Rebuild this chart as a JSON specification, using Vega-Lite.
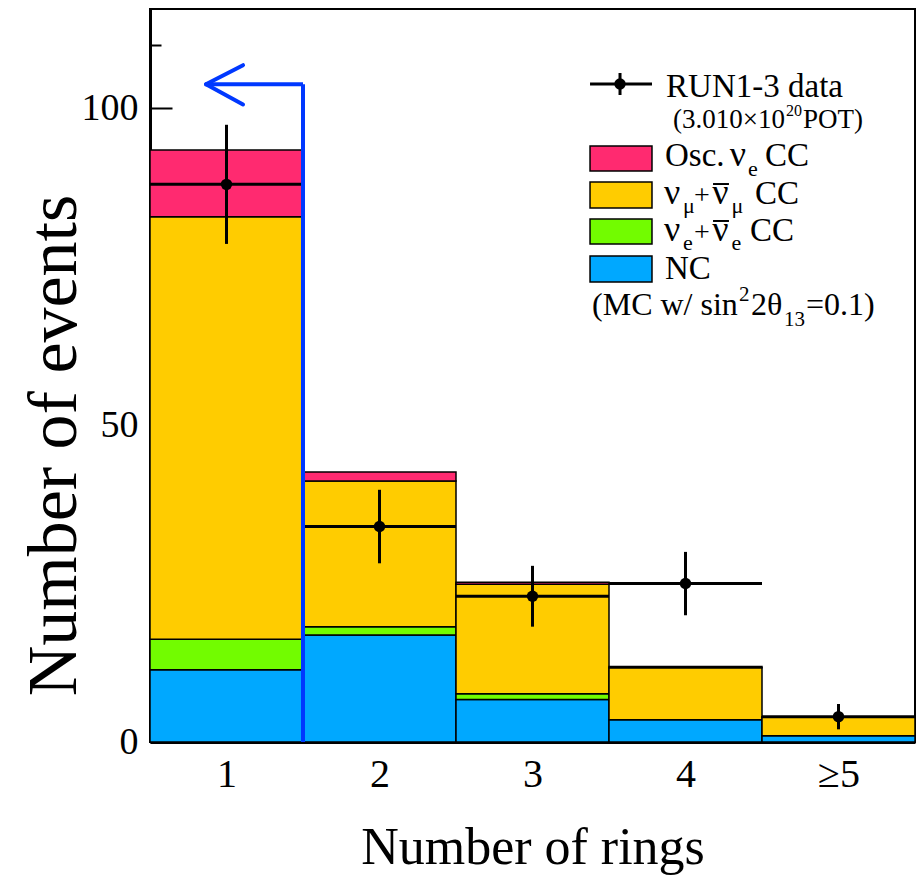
{
  "$schema": "https://vega.github.io/schema/vega-lite/v6.json",
  "autosize": {"type": "none"},
  "width": 765,
  "height": 733,
  "padding": {"left": 150, "top": 9, "right": 1, "bottom": 135},
  "background": "white",
  "config": {
    "view": {"stroke": "black", "strokeWidth": 2},
    "text": {"font": "Liberation Serif", "align": "left", "baseline": "alphabetic", "color": "black"},
    "axis": {"domainColor": "black", "domainWidth": 3, "grid": false, "labelFont": "Liberation Serif", "titleFont": "Liberation Serif", "labelColor": "black", "titleColor": "black", "titleFontWeight": "normal", "tickColor": "black", "zindex": 1}
  },
  "datasets": {
    "mc": [
      {"rings": 1, "r0": 0.5, "r1": 1.5, "comp": "NC", "y0": 0, "y1": 11.4},
      {"rings": 1, "r0": 0.5, "r1": 1.5, "comp": "nue", "y0": 11.4, "y1": 16.2},
      {"rings": 1, "r0": 0.5, "r1": 1.5, "comp": "numu", "y0": 16.2, "y1": 82.9},
      {"rings": 1, "r0": 0.5, "r1": 1.5, "comp": "osc", "y0": 82.9, "y1": 93.4},
      {"rings": 2, "r0": 1.5, "r1": 2.5, "comp": "NC", "y0": 0, "y1": 16.9},
      {"rings": 2, "r0": 1.5, "r1": 2.5, "comp": "nue", "y0": 16.9, "y1": 18.2},
      {"rings": 2, "r0": 1.5, "r1": 2.5, "comp": "numu", "y0": 18.2, "y1": 41.2},
      {"rings": 2, "r0": 1.5, "r1": 2.5, "comp": "osc", "y0": 41.2, "y1": 42.6},
      {"rings": 3, "r0": 2.5, "r1": 3.5, "comp": "NC", "y0": 0, "y1": 6.7},
      {"rings": 3, "r0": 2.5, "r1": 3.5, "comp": "nue", "y0": 6.7, "y1": 7.6},
      {"rings": 3, "r0": 2.5, "r1": 3.5, "comp": "numu", "y0": 7.6, "y1": 24.9},
      {"rings": 3, "r0": 2.5, "r1": 3.5, "comp": "osc", "y0": 24.9, "y1": 25.2},
      {"rings": 4, "r0": 3.5, "r1": 4.5, "comp": "NC", "y0": 0, "y1": 3.5},
      {"rings": 4, "r0": 3.5, "r1": 4.5, "comp": "numu", "y0": 3.5, "y1": 11.7},
      {"rings": 4, "r0": 3.5, "r1": 4.5, "comp": "osc", "y0": 11.7, "y1": 11.9},
      {"rings": 5, "r0": 4.5, "r1": 5.5, "comp": "NC", "y0": 0, "y1": 1.0},
      {"rings": 5, "r0": 4.5, "r1": 5.5, "comp": "numu", "y0": 1.0, "y1": 3.9},
      {"rings": 5, "r0": 4.5, "r1": 5.5, "comp": "osc", "y0": 3.9, "y1": 4.0}
    ],
    "obs": [
      {"rings": 1, "r0": 0.5, "r1": 1.5, "n": 88, "lo": 78.6, "hi": 97.4},
      {"rings": 2, "r0": 1.5, "r1": 2.5, "n": 34, "lo": 28.2, "hi": 39.8},
      {"rings": 3, "r0": 2.5, "r1": 3.5, "n": 23, "lo": 18.2, "hi": 27.8},
      {"rings": 4, "r0": 3.5, "r1": 4.5, "n": 25, "lo": 20.0, "hi": 30.0},
      {"rings": 5, "r0": 4.5, "r1": 5.5, "n": 4, "lo": 2.0, "hi": 6.0}
    ],
    "one": [{}]
  },
  "layer": [
    {
      "data": {"name": "mc"},
      "mark": {"type": "rect", "stroke": "black", "strokeWidth": 1.5},
      "encoding": {
        "x": {"field": "r0", "type": "quantitative", "scale": {"domain": [0.5, 5.5], "nice": false, "zero": false},
          "axis": {"values": [1, 2, 3, 4, 5], "format": "d", "labelExpr": "datum.value == 5 ? '≥5' : datum.label", "ticks": false, "labelFontSize": 40, "labelPadding": 12,
            "title": "Number of rings", "titleFontSize": 52, "titleY": 121, "titleBaseline": "alphabetic"}},
        "x2": {"field": "r1"},
        "y": {"field": "y0", "type": "quantitative", "scale": {"domain": [0, 115.67], "nice": false},
          "axis": {"values": [0, 10, 20, 30, 40, 50, 60, 70, 80, 90, 100, 110], "format": "d", "labelExpr": "datum.value % 50 == 0 ? datum.label : ''",
            "tickSize": {"condition": {"test": "datum.value % 50 == 0", "value": -22}, "value": -11}, "tickWidth": 2,
            "labelFontSize": 38, "labelPadding": 34, "labelBaseline": "middle",
            "title": "Number of events", "titleFontSize": 70, "titleAngle": -90, "titleX": -75, "titleY": 436, "titleBaseline": "alphabetic", "titleAlign": "center"}},
        "y2": {"field": "y1"},
        "fill": {"field": "comp", "type": "nominal", "legend": null,
          "scale": {"domain": ["osc", "numu", "nue", "NC"], "range": ["#ff2a70", "#ffcc00", "#72fc00", "#00a8ff"]}}
      }
    },
    {
      "data": {"name": "obs"},
      "mark": {"type": "rule", "color": "black", "strokeWidth": 3},
      "encoding": {"x": {"field": "r0", "type": "quantitative"}, "x2": {"field": "r1"}, "y": {"field": "n", "type": "quantitative"}}
    },
    {
      "data": {"name": "obs"},
      "mark": {"type": "rule", "color": "black", "strokeWidth": 3},
      "encoding": {"x": {"field": "rings", "type": "quantitative"}, "y": {"field": "lo", "type": "quantitative"}, "y2": {"field": "hi"}}
    },
    {
      "data": {"name": "obs"},
      "mark": {"type": "point", "shape": "circle", "filled": true, "color": "black", "size": 130, "opacity": 1},
      "encoding": {"x": {"field": "rings", "type": "quantitative"}, "y": {"field": "n", "type": "quantitative"}}
    },
    {
      "data": {"name": "one"},
      "mark": {"type": "rule", "color": "#0038ff", "strokeWidth": 4},
      "encoding": {"x": {"datum": 1.5}, "y": {"datum": 0}, "y2": {"datum": 103.8}}
    },
    {
      "data": {"name": "one"},
      "mark": {"type": "rule", "color": "#0038ff", "strokeWidth": 4},
      "encoding": {"x": {"datum": 1.5}, "x2": {"datum": 0.866}, "y": {"datum": 103.8}}
    },
    {
      "data": {"name": "one"},
      "mark": {"type": "rule", "color": "#0038ff", "strokeWidth": 4, "strokeCap": "round"},
      "encoding": {"x": {"datum": 0.866}, "y": {"datum": 103.8}, "x2": {"datum": 1.108}, "y2": {"datum": 106.8}}
    },
    {
      "data": {"name": "one"},
      "mark": {"type": "rule", "color": "#0038ff", "strokeWidth": 4, "strokeCap": "round"},
      "encoding": {"x": {"datum": 0.866}, "y": {"datum": 103.8}, "x2": {"datum": 1.108}, "y2": {"datum": 100.6}}
    },
    {
      "data": {"name": "one"},
      "mark": {"type": "rule", "color": "black", "strokeWidth": 3},
      "encoding": {"x": {"datum": 3.376}, "x2": {"datum": 3.781}, "y": {"datum": 103.83}}
    },
    {
      "data": {"name": "one"},
      "mark": {"type": "rule", "color": "black", "strokeWidth": 3},
      "encoding": {"x": {"datum": 3.572}, "y": {"datum": 105.57}, "y2": {"datum": 102.1}}
    },
    {
      "data": {"name": "one"},
      "mark": {"type": "point", "shape": "circle", "filled": true, "color": "black", "size": 130, "opacity": 1},
      "encoding": {"x": {"datum": 3.572}, "y": {"datum": 103.83}}
    },
    {
      "data": {"name": "one"},
      "mark": {"type": "rect", "fill": "#ff2a70", "stroke": "black", "strokeWidth": 1.5},
      "encoding": {"x": {"datum": 3.376}, "x2": {"datum": 3.781}, "y": {"datum": 94.05}, "y2": {"datum": 90.11}}
    },
    {
      "data": {"name": "one"},
      "mark": {"type": "rect", "fill": "#ffcc00", "stroke": "black", "strokeWidth": 1.5},
      "encoding": {"x": {"datum": 3.376}, "x2": {"datum": 3.781}, "y": {"datum": 88.37}, "y2": {"datum": 84.27}}
    },
    {
      "data": {"name": "one"},
      "mark": {"type": "rect", "fill": "#72fc00", "stroke": "black", "strokeWidth": 1.5},
      "encoding": {"x": {"datum": 3.376}, "x2": {"datum": 3.781}, "y": {"datum": 82.53}, "y2": {"datum": 78.59}}
    },
    {
      "data": {"name": "one"},
      "mark": {"type": "rect", "fill": "#00a8ff", "stroke": "black", "strokeWidth": 1.5},
      "encoding": {"x": {"datum": 3.376}, "x2": {"datum": 3.781}, "y": {"datum": 76.69}, "y2": {"datum": 72.59}}
    },
    {"data": {"name": "one"}, "mark": {"type": "text", "text": "RUN1-3 data", "fontSize": 33}, "encoding": {"x": {"datum": 3.873}, "y": {"datum": 101.78}}},
    {"data": {"name": "one"}, "mark": {"type": "text", "text": "(3.010×10", "fontSize": 27}, "encoding": {"x": {"datum": 3.918}, "y": {"datum": 96.89}}},
    {"data": {"name": "one"}, "mark": {"type": "text", "text": "20", "fontSize": 16}, "encoding": {"x": {"datum": 4.657}, "y": {"datum": 98.8}}},
    {"data": {"name": "one"}, "mark": {"type": "text", "text": "POT)", "fontSize": 27}, "encoding": {"x": {"datum": 4.768}, "y": {"datum": 96.89}}},
    {"data": {"name": "one"}, "mark": {"type": "text", "text": "Osc.", "fontSize": 33}, "encoding": {"x": {"datum": 3.866}, "y": {"datum": 90.9}}},
    {"data": {"name": "one"}, "mark": {"type": "text", "text": "ν", "fontSize": 36}, "encoding": {"x": {"datum": 4.29}, "y": {"datum": 90.9}}},
    {"data": {"name": "one"}, "mark": {"type": "text", "text": "e", "fontSize": 22}, "encoding": {"x": {"datum": 4.408}, "y": {"datum": 89.32}}},
    {"data": {"name": "one"}, "mark": {"type": "text", "text": "CC", "fontSize": 33}, "encoding": {"x": {"datum": 4.52}, "y": {"datum": 90.9}}},
    {"data": {"name": "one"}, "mark": {"type": "text", "text": "ν", "fontSize": 36}, "encoding": {"x": {"datum": 3.859}, "y": {"datum": 84.9}}},
    {"data": {"name": "one"}, "mark": {"type": "text", "text": "μ", "fontSize": 22}, "encoding": {"x": {"datum": 3.984}, "y": {"datum": 83.48}}},
    {"data": {"name": "one"}, "mark": {"type": "text", "text": "+", "fontSize": 28}, "encoding": {"x": {"datum": 4.055}, "y": {"datum": 84.9}}},
    {"data": {"name": "one"}, "mark": {"type": "text", "text": "ν", "fontSize": 36}, "encoding": {"x": {"datum": 4.175}, "y": {"datum": 84.9}}},
    {"data": {"name": "one"}, "mark": {"type": "rule", "color": "black", "strokeWidth": 2}, "encoding": {"x": {"datum": 4.18}, "x2": {"datum": 4.284}, "y": {"datum": 88.05}}},
    {"data": {"name": "one"}, "mark": {"type": "text", "text": "μ", "fontSize": 22}, "encoding": {"x": {"datum": 4.3}, "y": {"datum": 83.48}}},
    {"data": {"name": "one"}, "mark": {"type": "text", "text": "CC", "fontSize": 33}, "encoding": {"x": {"datum": 4.454}, "y": {"datum": 84.9}}},
    {"data": {"name": "one"}, "mark": {"type": "text", "text": "ν", "fontSize": 36}, "encoding": {"x": {"datum": 3.859}, "y": {"datum": 79.06}}},
    {"data": {"name": "one"}, "mark": {"type": "text", "text": "e", "fontSize": 22}, "encoding": {"x": {"datum": 3.984}, "y": {"datum": 77.64}}},
    {"data": {"name": "one"}, "mark": {"type": "text", "text": "+", "fontSize": 28}, "encoding": {"x": {"datum": 4.055}, "y": {"datum": 79.06}}},
    {"data": {"name": "one"}, "mark": {"type": "text", "text": "ν", "fontSize": 36}, "encoding": {"x": {"datum": 4.175}, "y": {"datum": 79.06}}},
    {"data": {"name": "one"}, "mark": {"type": "rule", "color": "black", "strokeWidth": 2}, "encoding": {"x": {"datum": 4.18}, "x2": {"datum": 4.284}, "y": {"datum": 82.22}}},
    {"data": {"name": "one"}, "mark": {"type": "text", "text": "e", "fontSize": 22}, "encoding": {"x": {"datum": 4.3}, "y": {"datum": 77.64}}},
    {"data": {"name": "one"}, "mark": {"type": "text", "text": "CC", "fontSize": 33}, "encoding": {"x": {"datum": 4.422}, "y": {"datum": 79.06}}},
    {"data": {"name": "one"}, "mark": {"type": "text", "text": "NC", "fontSize": 33}, "encoding": {"x": {"datum": 3.866}, "y": {"datum": 73.06}}},
    {"data": {"name": "one"}, "mark": {"type": "text", "text": "(MC w/ sin", "fontSize": 32}, "encoding": {"x": {"datum": 3.389}, "y": {"datum": 67.38}}},
    {"data": {"name": "one"}, "mark": {"type": "text", "text": "2", "fontSize": 21}, "encoding": {"x": {"datum": 4.35}, "y": {"datum": 69.6}}},
    {"data": {"name": "one"}, "mark": {"type": "text", "text": "2θ", "fontSize": 32}, "encoding": {"x": {"datum": 4.428}, "y": {"datum": 67.38}}},
    {"data": {"name": "one"}, "mark": {"type": "text", "text": "13", "fontSize": 21}, "encoding": {"x": {"datum": 4.644}, "y": {"datum": 65.65}}},
    {"data": {"name": "one"}, "mark": {"type": "text", "text": "=0.1)", "fontSize": 32}, "encoding": {"x": {"datum": 4.788}, "y": {"datum": 67.38}}}
  ]
}
